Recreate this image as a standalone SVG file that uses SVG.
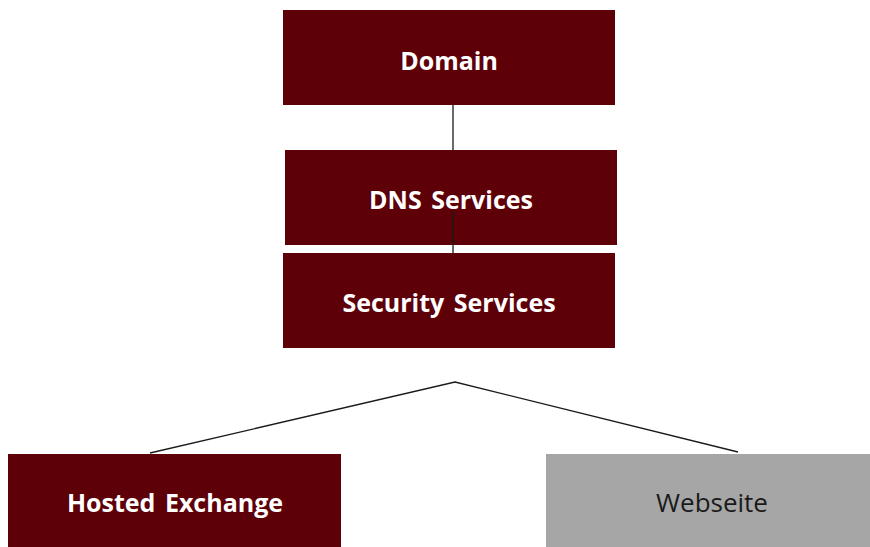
<svg xmlns="http://www.w3.org/2000/svg" width="870" height="547" viewBox="0 0 870 547">
<style>
.box{fill:#5e0008;}
.grey{fill:#a6a6a6;}
.t{font-family:"Open Sans","Liberation Sans",sans-serif;font-size:25px;font-weight:bold;fill:#ffffff;text-anchor:middle;dominant-baseline:central;word-spacing:3px;}
.tg{font-family:"Open Sans","Liberation Sans",sans-serif;font-size:26px;fill:#1a1a1a;text-anchor:middle;dominant-baseline:central;}
.c{stroke:#1a1a1a;stroke-width:1.3;fill:none;}
</style>
<rect width="870" height="547" fill="#ffffff"/>
<g id="domain"><rect class="box" x="283" y="10" width="332" height="95"/><text class="t" x="449" y="60">Domain</text></g>
<g id="dns"><rect class="box" x="285" y="150" width="332" height="95"/><text class="t" x="451" y="199">DNS Services</text></g>
<g id="security"><rect class="box" x="283" y="253" width="332" height="95"/><text class="t" x="449" y="302">Security Services</text></g>
<g id="hosted"><rect class="box" x="8" y="454" width="333" height="93"/><text class="t" x="175" y="502">Hosted Exchange</text></g>
<g id="webseite"><rect class="grey" x="546" y="454" width="324" height="93"/><text class="tg" x="712" y="502">Webseite</text></g>
<g id="connectors">
<line class="c" x1="453" y1="105" x2="453" y2="150" stroke="#555555"/>
<line class="c" x1="453" y1="211" x2="453" y2="253"/>
<polyline class="c" points="150,453 455,382 738,452"/>
</g>
</svg>
